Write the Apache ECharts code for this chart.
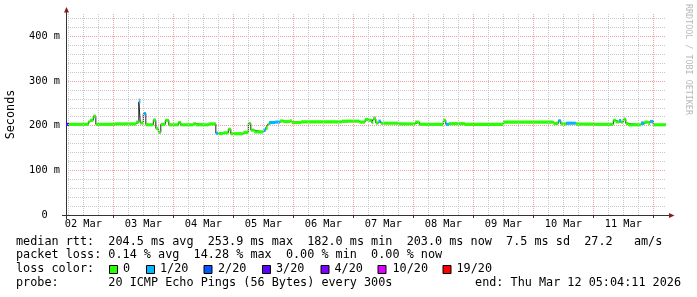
<!DOCTYPE html>
<html><head><meta charset="utf-8">
<script src="https://cdn.jsdelivr.net/npm/echarts@6/dist/echarts.min.js"></script>
<style>html,body{margin:0;padding:0;background:#fff}#c{width:697px;height:297px}</style>
</head><body><div id="c"></div>
<script>
// ---- data (hours since 02 Mar 00:00) ----
const segStart = [5.07, 6.3, 14.0, 14.7, 16.0, 17.0, 24.7, 33.1, 34.2, 34.8, 36.0, 37.0, 40.0, 41.0, 42.0, 43.0, 44.8, 46.2, 50.0, 51.0, 56.0, 57.0, 62.0, 65.0, 66.0, 68.0, 70.0, 71.0, 76.0, 78.0, 79.0, 80.4, 84.0, 85.0, 85.8, 86.3, 88.7, 90.7, 92.0, 94.7, 95.4, 99.1, 115.4, 122.4, 124.7, 126.0, 127.4, 128.0, 129.0, 130.0, 131.0, 138.0, 144.7, 146.4, 156.0, 157.0, 158.3, 164.7, 180.0, 200.0, 202.0, 203.0, 205.1, 209.0, 216.7, 224.0, 225.0, 226.3, 227.1, 228.0, 229.0, 230.0, 235.1, 236.4, 238.0, 238.7, 240.0];
const segMedian = [203, 203, 208.5, 212, 220, 203, 204, 208, 253, 206, 227, 202, 212, 194, 185, 203, 212, 202, 207, 202, 204.5, 202, 204, 183, 182.5, 184, 192, 182, 185, 205, 190, 186, 190, 195, 203, 207, 208, 210.5, 209, 211, 207, 208.5, 210, 208, 214, 212, 207, 215, 206, 210, 205.5, 204, 208, 203, 212, 203, 204.5, 203, 208, 205, 211, 204, 205.5, 203.5, 203, 212, 208.5, 211.5, 208, 214.5, 205, 202, 205, 208, 205, 209, 202];
const segLoss = [3, 0, 0, 0, 0, 0, 0, 0, 1, 0, 1, 0, 0, 0, 0, 0, 0, 0, 0, 0, 0, 0, 0, 1, 0, 0, 0, 0, 0, 0, 0, 0, 1, 0, 0, 1, 1, 0, 0, 0, 0, 0, 0, 0, 0, 0, 0, 0, 0, 1, 0, 0, 0, 0, 0, 1, 0, 0, 0, 0, 1, 0, 1, 0, 0, 0, 0, 1, 0, 0, 0, 0, 1, 0, 0, 1, 0];
const segSmokeTop = [null, null, null, null, 225, null, null, null, 261, null, 230, null, 216, null, null, null, null, null, null, null, null, null, null, null, null, null, null, null, null, null, null, null, null, null, 206, null, null, null, null, null, null, null, null, null, null, null, null, 221, null, null, null, null, null, null, null, null, null, null, null, null, null, null, null, null, null, null, null, null, null, null, null, null, 210, null, null, 213, null];
const endHour = 245.0;
const axisStart = 5.07, axisEnd = 245.07;

const lossLabels = ['0', '1/20', '2/20', '3/20', '4/20', '10/20', '19/20'];
const lossColors = ['#26ff00', '#00b8ff', '#0059ff', '#5e00ff', '#7e00ff', '#dd00ff', '#ff0000'];

const dayLabelHours = [12, 36, 60, 84, 108, 132, 156, 180, 204, 228];
const dayLabels = ['02 Mar', '03 Mar', '04 Mar', '05 Mar', '06 Mar', '07 Mar', '08 Mar', '09 Mar', '10 Mar', '11 Mar'];
const midnightHours = [24, 48, 72, 96, 120, 144, 168, 192, 216, 240];
const quarterHours = [6, 12, 18, 30, 36, 42, 54, 60, 66, 78, 84, 90, 102, 108, 114, 126, 132, 138, 150, 156, 162, 174, 180, 186, 198, 204, 210, 222, 228, 234];

const statsRtt = ['204.5 ms avg', '253.9 ms max', '182.0 ms min', '203.0 ms now', '7.5 ms sd', '27.2   am/s'];
const statsLoss = ['0.14 % avg', '14.28 % max', '0.00 % min', '0.00 % now'];
const probeText = '20 ICMP Echo Pings (56 Bytes) every 300s';
const endText = 'end: Thu Mar 12 05:04:11 2026';

// ---- chart ----
const MONO = '"DejaVu Sans Mono", monospace';
const BAND = 3.5;
const chart = echarts.init(document.getElementById('c'), null, {renderer: 'canvas'});

const segData = segStart.map((s, i) => [s, i + 1 < segStart.length ? segStart[i + 1] : endHour, segMedian[i], segLoss[i], segSmokeTop[i]]);
const smokeData = segData.filter(d => d[4] != null).map(d => [d[0], d[1], d[2], d[4]]);
const lineData = segStart.map((s, i) => [s, segMedian[i]]).concat([[endHour, segMedian[segMedian.length - 1]]]);

const gridMarks = quarterHours.map(h => ({xAxis: h, lineStyle: {color: '#c8c8c8', type: [1, 1], width: 1}}))
  .concat(midnightHours.map(h => ({xAxis: h, lineStyle: {color: '#f0a0a0', type: [1, 1], width: 1}})));

const swatchX = [109, 146, 203.5, 262, 320.5, 377.5, 442.5];
const swatchTextX = [123, 160, 218, 276, 334.5, 392.5, 456.5];

const graphics = [
  {type: 'line', shape: {x1: 66.5, y1: 14, x2: 66.5, y2: 10}, style: {stroke: '#333', lineWidth: 1}, silent: true},
  {type: 'line', shape: {x1: 66.5, y1: 215, x2: 66.5, y2: 219}, style: {stroke: '#333', lineWidth: 1}, silent: true},
  {type: 'line', shape: {x1: 62, y1: 215.5, x2: 66, y2: 215.5}, style: {stroke: '#333', lineWidth: 1}, silent: true},
  {type: 'line', shape: {x1: 666, y1: 215.5, x2: 670, y2: 215.5}, style: {stroke: '#333', lineWidth: 1}, silent: true},
  {type: 'polygon', shape: {points: [[64, 12.5], [69, 12.5], [66.5, 7]]}, style: {fill: '#8b1a1a'}, silent: true},
  {type: 'polygon', shape: {points: [[669, 213], [669, 218], [674.5, 215.5]]}, style: {fill: '#8b1a1a'}, silent: true},
  {type: 'text', x: 688, y: 4, rotation: -Math.PI / 2, silent: true,
    style: {text: 'RRDTOOL / TOBI OETIKER', fill: '#b8b8b8', font: '8.4px ' + MONO, align: 'left', verticalAlign: 'middle'}},
  {type: 'text', x: 16, y: 241.7, silent: true,
    style: {text: 'median rtt:  ' + statsRtt.join('  '), fill: '#000', font: '11.8px ' + MONO, align: 'left', verticalAlign: 'middle'}},
  {type: 'text', x: 16, y: 255.3, silent: true,
    style: {text: 'packet loss: ' + statsLoss.join('  '), fill: '#000', font: '11.8px ' + MONO, align: 'left', verticalAlign: 'middle'}},
  {type: 'text', x: 16, y: 269.2, silent: true,
    style: {text: 'loss color:', fill: '#000', font: '11.8px ' + MONO, align: 'left', verticalAlign: 'middle'}},
  {type: 'text', x: 16, y: 282.8, silent: true,
    style: {text: 'probe:       ' + probeText, fill: '#000', font: '11.8px ' + MONO, align: 'left', verticalAlign: 'middle'}},
  {type: 'text', x: 681, y: 282.8, silent: true,
    style: {text: endText, fill: '#000', font: '11.8px ' + MONO, align: 'right', verticalAlign: 'middle'}}
];
lossLabels.forEach((lab, i) => {
  graphics.push({type: 'rect', shape: {x: swatchX[i] + 0.5, y: 265.5, width: 8, height: 8}, style: {fill: lossColors[i], stroke: '#000', lineWidth: 1}, silent: true});
  graphics.push({type: 'text', x: swatchTextX[i], y: 269.2, silent: true,
    style: {text: lab, fill: '#000', font: '11.8px ' + MONO, align: 'left', verticalAlign: 'middle'}});
});

chart.setOption({
  animation: false,
  backgroundColor: '#ffffff',
  grid: {left: 66, right: 31, top: 14, bottom: 82, containLabel: false, outerBoundsMode: 'none'},
  xAxis: {
    type: 'value', min: axisStart, max: axisEnd,
    axisLine: {show: true, lineStyle: {color: '#333', width: 1}},
    axisTick: {show: true, customValues: midnightHours, length: 3, lineStyle: {color: '#333'}},
    axisLabel: {show: true, customValues: dayLabelHours, margin: 4, color: '#000', fontFamily: MONO, fontSize: 10.3,
      formatter: v => { const k = dayLabelHours.indexOf(Math.round(v)); return k >= 0 ? dayLabels[k] : ''; }},
    splitLine: {show: false}
  },
  yAxis: [
    {
      type: 'value', min: 0, max: 450, interval: 20, position: 'left',
      axisLine: {show: false}, axisTick: {show: false}, axisLabel: {show: false},
      splitLine: {show: true, showMaxLine: false, lineStyle: {color: '#c8c8c8', type: [1, 1], width: 1}}
    },
    {
      type: 'value', min: 0, max: 450, interval: 100, position: 'left', offset: 0,
      name: 'Seconds', nameLocation: 'middle', nameGap: 49, nameRotate: 90,
      nameTextStyle: {fontFamily: MONO, fontSize: 11.8, color: '#000'},
      axisLine: {show: true, lineStyle: {color: '#333', width: 1}},
      axisTick: {show: false},
      axisLabel: {margin: 6, color: '#000', fontFamily: MONO, fontSize: 10.3,
        formatter: v => (v % 100 === 0 ? (v === 0 ? '0  ' : v + ' m') : '')},
      splitLine: {show: true, showMaxLine: false, lineStyle: {color: '#f0a0a0', type: [1, 1], width: 1}}
    }
  ],
  graphic: graphics,
  series: [
    {type: 'line', data: [], z: 1, silent: true,
      markLine: {silent: true, symbol: 'none', label: {show: false}, animation: false, data: gridMarks}},
    {type: 'custom', z: 2, silent: true, data: smokeData, encode: {x: [0, 1], y: [2, 3]},
      renderItem: (params, api) => {
        const p0 = api.coord([api.value(0), api.value(3)]);
        const p1 = api.coord([api.value(1), api.value(2)]);
        return {type: 'rect', shape: {x: p0[0], y: p0[1], width: p1[0] - p0[0], height: p1[1] - p0[1]}, style: {fill: '#b0b0b0'}};
      }},
    {type: 'line', z: 3, silent: true, step: 'end', data: lineData, symbol: 'none',
      lineStyle: {color: '#202020', width: 1}},
    {type: 'custom', z: 4, silent: true, data: segData, encode: {x: [0, 1], y: 2},
      renderItem: (params, api) => {
        const p0 = api.coord([api.value(0), api.value(2) + BAND]);
        const p1 = api.coord([api.value(1), api.value(2) - BAND]);
        return {type: 'rect', shape: {x: p0[0], y: p0[1], width: p1[0] - p0[0], height: p1[1] - p0[1]},
          style: {fill: lossColors[api.value(3)]}};
      }}
  ]
});
</script>
</body></html>
